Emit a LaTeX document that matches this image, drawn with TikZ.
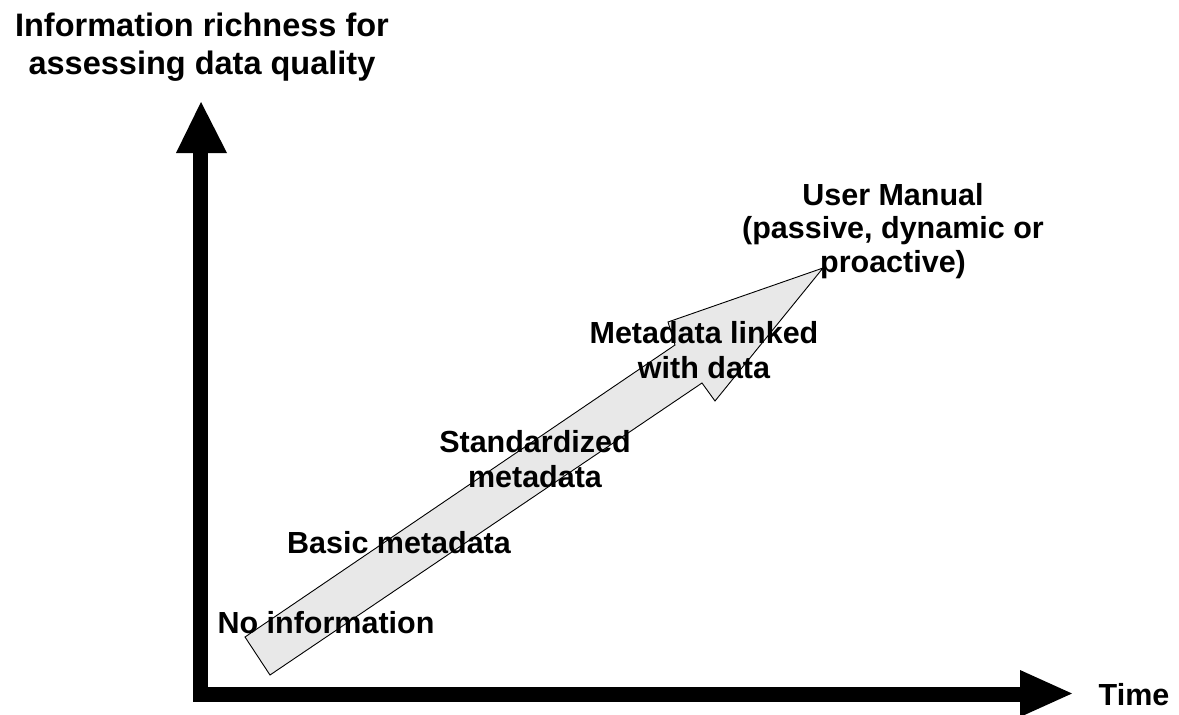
\documentclass[tikz,border=0pt]{standalone}
\usepackage{fontspec}
\setmainfont{Liberation Sans}
\definecolor{arrowfill}{RGB}{232,232,232}
\tikzset{
  axisline/.style={line width=15pt, line join=miter, line cap=butt},
  axishead/.style={fill=black, draw=none},
  bigarrow/.style={fill=arrowfill, draw=black, line width=0.9pt, line join=miter},
  titletext/.style={font=\fontsize{32.5}{38.5}\selectfont\bfseries, align=center, inner sep=0pt, anchor=base},
  lbl/.style={font=\fontsize{30.5}{35}\selectfont\bfseries, align=center, inner sep=0pt, anchor=base}
}
\begin{document}
\begin{tikzpicture}[x=1pt, y=-1pt]
\useasboundingbox (0,0) rectangle (1179,715);
% axes
\coordinate (ybase) at (200.5,153);
\coordinate (origin) at (200.5,694.5);
\coordinate (xbase) at (1020,694.5);
\draw[axisline] (ybase) -- (origin) -- (xbase);
\fill[axishead] (176,153) -- (227,153) -- (201,102) -- cycle;
\fill[axishead] (1020,670) -- (1020,717) -- (1072,693.5) -- cycle;
% growth arrow
\draw[bigarrow] (245,637) -- (675,345) -- (668,322) -- (823,268) -- (715,401) -- (702,383) -- (270,675) -- cycle;
% labels (base anchor = baseline of the last line)
\node[titletext] (ylabel) at (202,74.5) {Information richness for\\assessing data quality};
\node[lbl] (xlabel) at (1134,705) {Time};
\node[lbl] (l1) at (326,633) {No information};
\node[lbl] (l2) at (399,553) {Basic metadata};
\node[lbl] (l3) at (535,487.5) {Standardized\\metadata};
\node[lbl] (l4) at (704,378) {Metadata linked\\with data};
\node[lbl, font=\fontsize{30.5}{33.5}\selectfont\bfseries] (l5) at (893,272) {User Manual\\(passive, dynamic or\\proactive)};
\end{tikzpicture}
\end{document}
